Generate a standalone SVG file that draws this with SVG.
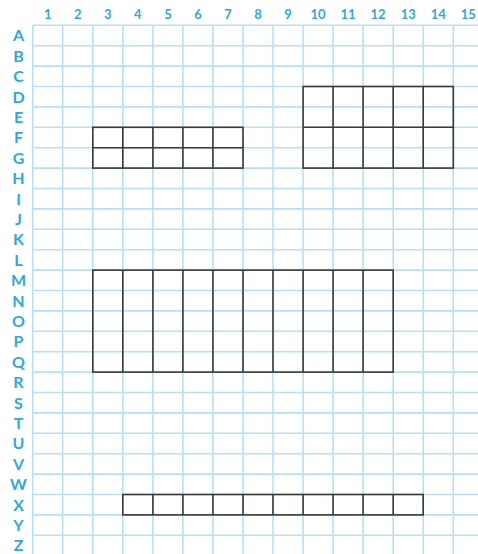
<svg xmlns="http://www.w3.org/2000/svg" width="478" height="554" viewBox="0 0 478 554">
<style>
.g{stroke:#b3e1f7;stroke-width:1.6;fill:none}
.lbl{font-family:"Lato","Liberation Sans",sans-serif;font-weight:bold;fill:#2aaae2;text-anchor:middle}
.row{font-size:16px}
.col{font-size:13px}
.b{stroke:#3a3a3a;stroke-width:1.6;fill:none}
</style>
<rect width="478" height="554" fill="#fff"/>
<g id="grid">
<path class="g" d="M32.7 25.3V554M62.7 25.3V554M92.8 25.3V554M122.8 25.3V554M152.9 25.3V554M182.9 25.3V554M212.9 25.3V554M243 25.3V554M273 25.3V554M303.1 25.3V554M333.1 25.3V554M363.1 25.3V554M393.2 25.3V554M423.2 25.3V554M453.3 25.3V554"/>
<path class="g" d="M32.7 25.3H478M32.7 45.7H478M32.7 66.1H478M32.7 86.5H478M32.7 106.9H478M32.7 127.3H478M32.7 147.7H478M32.7 168.1H478M32.7 188.5H478M32.7 208.9H478M32.7 229.3H478M32.7 249.7H478M32.7 270.1H478M32.7 290.5H478M32.7 310.9H478M32.7 331.3H478M32.7 351.7H478M32.7 372.1H478M32.7 392.5H478M32.7 412.9H478M32.7 433.3H478M32.7 453.7H478M32.7 474.1H478M32.7 494.5H478M32.7 514.9H478M32.7 535.3H478"/>
</g>
<g id="col-labels" class="lbl col">
<text x="47.7" y="19">1</text><text x="77.7" y="19">2</text><text x="107.8" y="19">3</text><text x="137.8" y="19">4</text><text x="167.9" y="19">5</text><text x="197.9" y="19">6</text><text x="227.9" y="19">7</text><text x="258" y="19">8</text><text x="288" y="19">9</text><text x="318.1" y="19">10</text><text x="348.1" y="19">11</text><text x="378.1" y="19">12</text><text x="408.2" y="19">13</text><text x="438.2" y="19">14</text><text x="468.3" y="19">15</text>
</g>
<g id="row-labels" class="lbl row">
<text x="18.5" y="41.3">A</text><text x="18.5" y="61.7">B</text><text x="18.5" y="82.1">C</text><text x="18.5" y="102.5">D</text><text x="18.5" y="122.9">E</text><text x="18.5" y="143.3">F</text><text x="18.5" y="163.7">G</text><text x="18.5" y="184.1">H</text><text x="18.5" y="204.5">I</text><text x="18.5" y="224.9">J</text><text x="18.5" y="245.3">K</text><text x="18.5" y="265.7">L</text><text x="18.5" y="286.1">M</text><text x="18.5" y="306.5">N</text><text x="18.5" y="326.9">O</text><text x="18.5" y="347.3">P</text><text x="18.5" y="367.7">Q</text><text x="18.5" y="388.1">R</text><text x="18.5" y="408.5">S</text><text x="18.5" y="428.9">T</text><text x="18.5" y="449.3">U</text><text x="18.5" y="469.7">V</text><text x="18.5" y="490.1">W</text><text x="18.5" y="510.5">X</text><text x="18.5" y="530.9">Y</text><text x="18.5" y="551.3">Z</text>
</g>
<g id="block-d10">
<rect class="b" x="303.1" y="86.5" width="150.2" height="81.6"/>
<path class="b" d="M303.1 127.3H453.3M333.1 86.5V168.1M363.1 86.5V168.1M393.2 86.5V168.1M423.2 86.5V168.1"/>
</g>
<g id="block-f3">
<rect class="b" x="92.8" y="127.3" width="150.2" height="40.8"/>
<path class="b" d="M92.8 147.7H243M122.8 127.3V168.1M152.9 127.3V168.1M182.9 127.3V168.1M212.9 127.3V168.1"/>
</g>
<g id="block-m3">
<rect class="b" x="92.8" y="270.1" width="300.4" height="102"/>
<path class="b" d="M122.8 270.1V372.1M152.9 270.1V372.1M182.9 270.1V372.1M212.9 270.1V372.1M243 270.1V372.1M273 270.1V372.1M303.1 270.1V372.1M333.1 270.1V372.1M363.1 270.1V372.1"/>
</g>
<g id="block-x4">
<rect class="b" x="122.8" y="494.5" width="300.4" height="20.4"/>
<path class="b" d="M152.9 494.5V514.9M182.9 494.5V514.9M212.9 494.5V514.9M243 494.5V514.9M273 494.5V514.9M303.1 494.5V514.9M333.1 494.5V514.9M363.1 494.5V514.9M393.2 494.5V514.9"/>
</g>
</svg>
